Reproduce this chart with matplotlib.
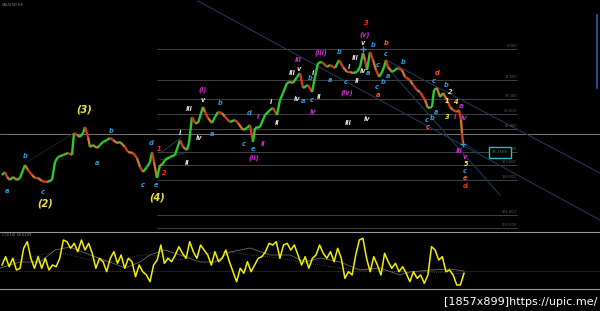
import numpy as np
import matplotlib
matplotlib.use('Agg')
import matplotlib.pyplot as plt
from matplotlib.collections import LineCollection

# ---------------- data ----------------
bars = [2,5,7,10,13,17,20,23,25,28,32,35,38,42,47,52,55,58,63,68,72,74,77,80,83,85,88,90,93,97,
        100,103,107,110,113,117,120,125,128,133,137,140,143,147,150,152,154,157,160,162,165,170,175,
        180,183,187,189,192,195,198,203,205,208,212,215,218,222,225,230,235,238,243,247,250,253,255,
        260,265,270,273,277,280,283,287,290,293,297,300,303,308,312,315,318,322,327,330,335,339,343,
        347,350,353,357,360,363,365,367,370,373,376,379,382,384,386,388,392,395,398,402,405,410,413,
        417,420,425,428,432,434,437,440,443,447,450,453,457,459,461,462,463]
close = [53,56,51,48,51,48,50,58,63,58,53,50,50,47,46,48,66,71,73,75,73,95,93,91,95,101,91,81,83,80,
         83,86,88,90,88,85,86,81,76,75,70,61,56,61,66,76,66,50,63,63,68,71,73,
         88,81,78,85,111,105,105,121,116,110,105,111,116,115,111,106,108,105,98,100,103,86,100,
         101,113,118,120,113,128,135,145,146,145,151,155,140,143,136,151,165,166,161,163,160,168,161,
         156,156,155,156,161,175,168,158,176,168,158,151,156,161,168,161,156,158,160,158,151,148,143,
         138,136,128,120,121,138,140,131,135,128,121,118,116,118,108,95,85]

fib_levels = [179, 148, 129, 114, 99, 76, 63, 48, 13, 0]
fib_labels = ["0.000", "23.600", "38.200", "50.000", "61.800", "100.000",
              "123.600", "138.200", "161.800", "200.000"]
pivot_level = 94
current_label = "95.2568"

cci = [-50,33,-67,17,-100,-83,117,183,17,-83,
       33,-83,17,-100,-50,-67,17,200,183,117,
       167,83,200,100,167,67,-83,17,-17,-117,
       17,83,-33,50,-83,17,-17,-167,-50,-117,
       -150,-217,-50,0,150,-33,17,-17,50,133,
       67,17,183,83,17,150,100,50,-50,83,
       -17,17,100,-17,-117,-217,-83,-133,-17,-117,
       -50,17,33,83,167,150,183,17,150,167,
       100,150,50,-50,33,-83,17,50,150,67,
       17,83,-17,117,17,-183,-117,-150,50,200,
       217,17,-117,33,-50,-150,67,-17,-83,-33,
       -117,-67,-133,-217,-117,-183,-150,-233,-150,133,
       100,0,33,-117,-100,-150,-250,-250,-133]
sig_x = [0,20,40,55,70,90,110,125,140,150,165,180,200,215,230,250,270,290,305,320,340,360,380,400,410,430,450,464]
sig1 = [-80,-20,-20,100,130,50,-20,-80,-20,50,100,50,-20,-20,80,120,50,50,-20,20,-20,-100,-80,-150,-120,-100,-90,-110]
sig2 = [0,0,50,80,50,0,-20,0,50,50,30,0,50,80,80,50,30,0,-30,-50,-80,-100,-100,-120,-120,-120,-130,-140]
cci_level = -110

# wave labels: text, bar, price, colour key
wave_labels = [
    ("a",7,37,"c"),("b",25,72,"c"),("c",43,36,"c"),("a",97,65,"c"),("b",111,97,"c"),
    ("c",143,43,"c"),("d",151,85,"c"),("e",156,43,"c"),("a",212,94,"c"),("b",220,125,"c"),
    ("d",249,115,"c"),("c",244,84,"c"),("e",253,79,"c"),("a",303,127,"c"),("c",312,128,"c"),
    ("b",310,150,"c"),("b",339,176,"c"),("a",330,148,"c"),("c",346,146,"c"),("a",368,155,"c"),
    ("b",373,183,"c"),("c",378,163,"c"),("c",377,141,"c"),("b",383,146,"c"),("a",388,152,"c"),
    ("c",386,174,"c"),("b",403,166,"c"),("c",434,147,"c"),("b",446,143,"c"),("a",436,116,"c"),
    ("b",432,110,"c"),("c",427,108,"c"),("c",465,57,"c"),
    ("i",180,95,"w"),("ii",187,65,"w"),("iii",189,119,"w"),("iv",199,90,"w"),("v",203,128,"w"),
    ("i",271,126,"w"),("ii",277,105,"w"),("iii",292,155,"w"),("v",299,159,"w"),("iv",297,129,"w"),
    ("i",313,155,"w"),("ii",319,131,"w"),("iii",355,170,"w"),("i",349,161,"w"),("ii",357,147,"w"),
    ("iv",363,157,"w"),("v",363,185,"w"),("iii",348,105,"w"),("iv",367,109,"w"),
    ("(i)",203,138,"m"),("i",258,111,"m"),("ii",263,84,"m"),("(ii)",254,70,"m"),("iii",298,168,"m"),
    ("iv",313,116,"m"),("(iii)",321,175,"m"),("(iv)",347,135,"m"),("(v)",365,193,"m"),
    ("a",461,122,"m"),("i",455,111,"m"),("iv",464,110,"m"),("iii",459,77,"m"),("v",465,71,"m"),
    ("2",450,136,"y"),("1",447,127,"y"),("4",456,126,"y"),("3",447,111,"y"),("5",466,64,"y"),
    ("1",159,79,"r"),("2",164,55,"r"),("3",366,205,"r"),("d",465,42,"r"),
    ("a",378,133,"o"),("b",386,185,"o"),("d",437,155,"o"),("c",428,101,"o"),("e",465,50,"o"),
]
degree_labels = [("(2)",45,25),("(3)",84,118),("(4)",157,31)]
crosses = [(363,179),(463,84)]

palette = {"c":"#2f9be0","w":"#e6e6e6","m":"#d22ad2","y":"#f2e43a","r":"#ff2a1a","o":"#ff5a1a"}

# ---------------- figure ----------------
W, H = 600, 311
fig = plt.figure(figsize=(6, 3.11), dpi=100, facecolor='black')
ax = fig.add_axes([0, 1 - 231/H, 1, 231/H])
ax.set_facecolor('black')
ax.set_xlim(0, 600)
ax.set_ylim(-3, 228)
ax.axis('off')

# fib lines
ax.hlines(fib_levels, 157, 517, color='#404040', lw=0.7)
for lv, lb in zip(fib_levels, fib_labels):
    ax.text(517, lv + 0.8, lb, fontsize=2.6, color='#5a5a5a', ha='right', va='bottom')
ax.axhline(pivot_level, color='#8a8a8a', lw=0.6)

# channel / trend lines
chan = '#1f3656'
ax.plot([198, 600], [227, 8], color=chan, lw=0.8)
ax.plot([386, 600], [168, 55], color=chan, lw=0.8)
ax.plot([385, 500], [163, 33], color=chan, lw=0.8)
ax.plot([27, 74], [66, 95], color='#2a2a2a', lw=0.5)
ax.plot([160, 187], [68, 76], color='#1a5a5a', lw=0.5)
ax.plot([160, 182], [75, 91], color='#1a5a5a', lw=0.5)

# price
pts = np.column_stack([bars, close])
segs = np.stack([pts[:-1], pts[1:]], axis=1)
diff = np.diff(close)
cols = ['#2fc82f' if d > 0 else ('#d23a1e' if i % 2 else '#c8782a') for i, d in enumerate(diff)]
ax.add_collection(LineCollection(segs, colors=cols, linewidths=1.7))

# current price dotted link + box
ax.plot([bars[-1], 478], [close[-1], 76], color='#2a7aa0', lw=0.6, ls=':')
ax.text(500, 76, current_label, fontsize=2.8, color='#6a6a6a', ha='center', va='center',
        bbox=dict(boxstyle='square,pad=0.9', fc='black', ec='#2ab8c8', lw=1.0))

# labels
for t, x, p, c in wave_labels:
    ax.text(x, p, t, color=palette[c], fontsize=4.8, fontweight='bold', fontstyle='italic',
            ha='center', va='center')
for t, x, p in degree_labels:
    ax.text(x, p, t, color=palette["y"], fontsize=7, fontweight='bold', fontstyle='italic',
            ha='center', va='center')
for x, p in crosses:
    ax.plot(x, p, marker='+', color=palette["c"], ms=5, mew=1.0)

ax.text(2, 225, "XAUUSD,H4", fontsize=2.6, color='#8a8a8a', ha='left', va='top')

# ---------------- oscillator ----------------
ax2 = fig.add_axes([0, 1 - 289/H, 1, 57/H])
ax2.set_facecolor('black')
ax2.set_xlim(0, 600)
ax2.set_ylim(-290, 280)
ax2.set_xticks([]); ax2.set_yticks([])
for s in ['left', 'right']:
    ax2.spines[s].set_visible(False)
for s in ['top', 'bottom']:
    ax2.spines[s].set_color('#9a9a9a')
    ax2.spines[s].set_linewidth(0.8)
ax2.axhline(cci_level, color='#5a0c0c', lw=0.6)
osc_x = np.linspace(2, 464, len(cci))
ax2.plot(sig_x, sig2, color='#555555', lw=0.6, ls=':')
ax2.plot(sig_x, sig1, color='#6a6a6a', lw=0.6)
ax2.plot(osc_x, cci, color='#f2f000', lw=1.1)
ax2.text(2, 265, "CCI(14) 26.6209", fontsize=2.6, color='#8a8a8a', ha='left', va='top')

# scrollbar & watermark
fig.add_artist(plt.Line2D([597/W, 597/W], [1 - 15/H, 1 - 88/H], color='#2a5cb0', lw=1.2))
fig.text(597/W, 1 - 307/H, "[1857x899]https://upic.me/", color='white', fontsize=8,
         ha='right', va='bottom')

fig.savefig('out.png', dpi=100, facecolor='black')
